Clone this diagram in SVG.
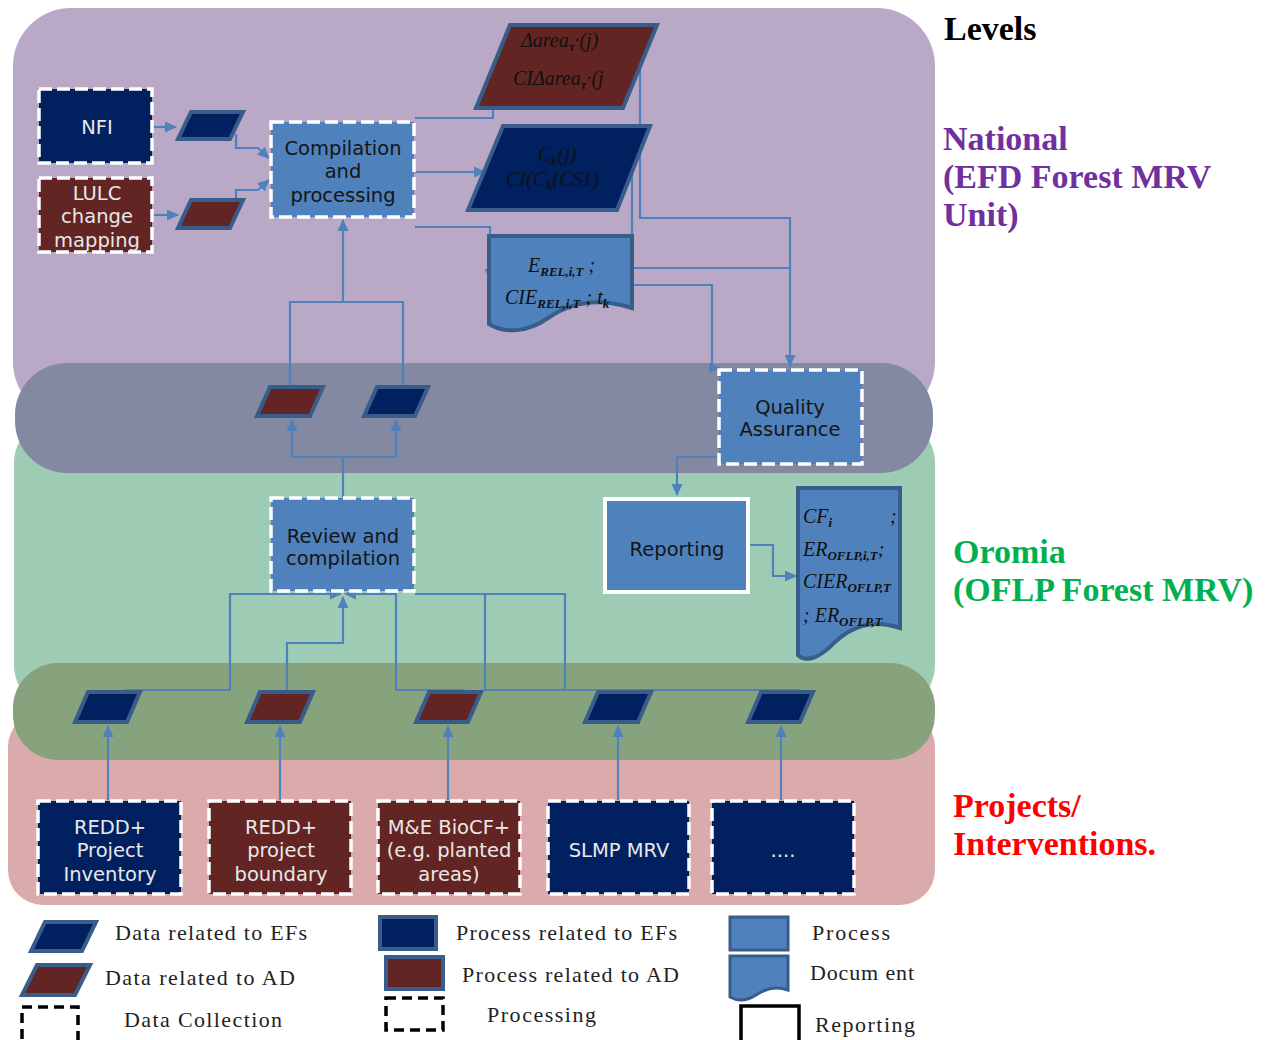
<svg xmlns="http://www.w3.org/2000/svg" width="1270" height="1040" viewBox="0 0 1270 1040">
<defs>
<marker id="arr" markerUnits="userSpaceOnUse" markerWidth="12" markerHeight="11" refX="11" refY="5.5" orient="auto">
<path d="M0,0 L12,5.5 L0,11 z" fill="#4F81BD"/>
</marker>
</defs>
<style>
.con{fill:none;stroke:#4F81BD;stroke-width:2.2}
.ca{fill:none;stroke:#4F81BD;stroke-width:2.2;marker-end:url(#arr)}
.dc{stroke:#fff;stroke-width:3.5;stroke-dasharray:13 5}
.navy{fill:#002060}
.mar{fill:#632523}
.proc{fill:#4F81BD}
.pe{fill:#002060;stroke:#385D8A;stroke-width:4}
.pa{fill:#632523;stroke:#385D8A;stroke-width:4}
.doc{fill:#4F81BD;stroke:#385D8A;stroke-width:4}
.t{font-family:"DejaVu Sans",Verdana,sans-serif;font-size:19.5px;text-anchor:middle}
.tl{fill:#E8E8E8}
.td{fill:#151515}
.m{font-family:"Liberation Serif","Times New Roman",serif;font-style:italic;font-size:20px;fill:#111}
.s{font-size:13px;font-weight:bold}
.lg{font-family:"Liberation Serif","Times New Roman",serif;font-size:22px;fill:#222}
.lv{font-family:"Liberation Serif","Times New Roman",serif;font-weight:bold;font-size:34px}
</style>
<rect width="1270" height="1040" fill="#fff"/>
<g id="levels-bg">
<rect x="13" y="8" width="922" height="412" rx="58" fill="#B9A9C7"/>
<rect x="14" y="418" width="921" height="292" rx="45" fill="#9DCBB3"/>
<rect x="8" y="712" width="927" height="193" rx="35" fill="#DBABAB"/>
<rect x="15" y="363" width="918" height="110" rx="52" fill="#8289A0"/>
<rect x="13" y="663" width="922" height="97" rx="45" fill="#86A37E"/>
</g>
<g id="connectors">
<path class="ca" d="M153,127 H176"/>
<path class="ca" d="M153,215 H178"/>
<path class="ca" d="M236,134 V148 H258 L269,158"/>
<path class="ca" d="M236,201 V190 H258 L269,180"/>
<path class="ca" d="M415,118 H493 V70"/>
<path class="ca" d="M415,172 H485"/>
<path class="ca" d="M415,227 H490 V280"/>
<path class="ca" d="M640,68 V218 H790 V366"/>
<path class="con" d="M632,172 V268 H790"/>
<path class="ca" d="M633,285 H712 V368 H720"/>
<path class="ca" d="M718,457 H677 V495"/>
<path class="ca" d="M290,385 V302 H403 V385 M343,302 V220"/>
<path class="con" d="M343,497 V457 H292 V432"/>
<path class="ca" d="M292,440 V420"/>
<path class="con" d="M343,457 H396 V432"/>
<path class="ca" d="M396,440 V420"/>
<path class="ca" d="M125,690 H230 V594 H341"/>
<path class="ca" d="M287,690 V643 H343 V597"/>
<path class="ca" d="M465,690 H396 V594 H345"/>
<path class="con" d="M640,690 H485 V594"/>
<path class="con" d="M800,690 H565 V594 H415"/>
<path class="ca" d="M749,545 H773 V576 H796"/>
<path class="ca" d="M108,800 V726"/>
<path class="ca" d="M280,800 V726"/>
<path class="ca" d="M448,800 V726"/>
<path class="ca" d="M618,800 V726"/>
<path class="ca" d="M781,800 V726"/>
</g>
<g id="nfi">
<rect class="navy dc" x="39" y="89" width="113" height="74"/>
<text class="t tl" x="97" y="134">NFI</text>
</g>
<g id="lulc">
<rect class="mar dc" x="39" y="178" width="113" height="74"/>
<text class="t tl" x="97" y="200">LULC</text>
<text class="t tl" x="97" y="223">change</text>
<text class="t tl" x="97" y="247">mapping</text>
</g>
<g id="data-nfi"><polygon class="pe" points="191,112 243,112 230,139 178,139"/></g>
<g id="data-lulc"><polygon class="pa" points="191,200 243,200 230,228 178,228"/></g>
<g id="compilation">
<rect class="proc dc" x="271" y="122" width="143" height="95"/>
<text class="t td" x="343" y="155">Compilation</text>
<text class="t td" x="343" y="178">and</text>
<text class="t td" x="343" y="202">processing</text>
</g>
<g id="area-data">
<polygon class="pa" points="510,25 657,25 623,108 476,108" stroke-width="5"/>
<text class="m" x="521" y="47">Δarea<tspan class="s" dy="4">τ</tspan><tspan dy="-4">·(j)</tspan></text>
<text class="m" x="513" y="85">CIΔarea<tspan class="s" dy="4">τ</tspan><tspan dy="-4">·(j</tspan></text>
</g>
<g id="carbon-data">
<polygon class="pe" points="503,126 650,126 617,210 468,210" stroke-width="5"/>
<text class="m" x="538" y="161">C<tspan class="s" dy="4">k</tspan><tspan dy="-4">(j)</tspan></text>
<text class="m" x="506" y="186">CI(C<tspan class="s" dy="4">k</tspan><tspan dy="-4">(CS1)</tspan></text>
</g>
<g id="rel-doc">
<path class="doc" d="M489,236 H632 V308 C595,296 568,304 548,318 C528,332 505,334 489,324 Z"/>
<text class="m" x="528" y="272">E<tspan class="s" dy="4">REL,i,T</tspan><tspan dy="-4"> ;</tspan></text>
<text class="m" x="505" y="304">CIE<tspan class="s" dy="4">REL,i,T</tspan><tspan dy="-4"> ;  t</tspan><tspan class="s" dy="4">k</tspan></text>
</g>
<g id="quality">
<rect class="proc dc" x="719" y="370" width="143" height="94"/>
<text class="t td" x="790" y="414">Quality</text>
<text class="t td" x="790" y="436">Assurance</text>
</g>
<g id="data-ad-mid"><polygon class="pa" points="270,387 323,387 310,416 257,416"/></g>
<g id="data-ef-mid"><polygon class="pe" points="377,387 428,387 415,416 364,416"/></g>
<g id="review">
<rect class="proc dc" x="271" y="498" width="143" height="93"/>
<text class="t td" x="343" y="543">Review and</text>
<text class="t td" x="343" y="565">compilation</text>
</g>
<g id="reporting">
<rect class="proc" x="605" y="499" width="143" height="93" stroke="#fff" stroke-width="4"/>
<text class="t td" x="677" y="556">Reporting</text>
</g>
<g id="oflp-doc">
<path class="doc" d="M798,488 H900 V628 C870,618 850,628 835,642 C820,658 806,663 798,655 Z"/>
<text class="m" x="803" y="523">CF<tspan class="s" dy="4">i</tspan></text>
<text class="m" x="890" y="523">;</text>
<text class="m" x="803" y="556">ER<tspan class="s" dy="4">OFLP,i,T</tspan><tspan dy="-4">;</tspan></text>
<text class="m" x="803" y="588">CIER<tspan class="s" dy="4">OFLP,T</tspan></text>
<text class="m" x="803" y="622">; ER<tspan class="s" dy="4">OFLP,T</tspan></text>
</g>
<g id="data-1"><polygon class="pe" points="88,692 140,692 127,722 75,722"/></g>
<g id="data-2"><polygon class="pa" points="260,692 313,692 300,722 247,722"/></g>
<g id="data-3"><polygon class="pa" points="429,692 481,692 468,722 416,722"/></g>
<g id="data-4"><polygon class="pe" points="598,692 651,692 638,722 585,722"/></g>
<g id="data-5"><polygon class="pe" points="761,692 813,692 800,722 748,722"/></g>
<g id="redd-inventory">
<rect class="navy dc" x="38" y="801" width="143" height="93"/>
<text class="t tl" x="110" y="834">REDD+</text>
<text class="t tl" x="110" y="857">Project</text>
<text class="t tl" x="110" y="881">Inventory</text>
</g>
<g id="redd-boundary">
<rect class="mar dc" x="209" y="801" width="142" height="93"/>
<text class="t tl" x="281" y="834">REDD+</text>
<text class="t tl" x="281" y="857">project</text>
<text class="t tl" x="281" y="881">boundary</text>
</g>
<g id="biocf">
<rect class="mar dc" x="378" y="801" width="142" height="93"/>
<text class="t tl" x="449" y="834">M&amp;E BioCF+</text>
<text class="t tl" x="449" y="857">(e.g. planted</text>
<text class="t tl" x="449" y="881">areas)</text>
</g>
<g id="slmp">
<rect class="navy dc" x="548" y="801" width="141" height="93"/>
<text class="t tl" x="619" y="857">SLMP MRV</text>
</g>
<g id="more">
<rect class="navy dc" x="712" y="801" width="142" height="93"/>
<text class="t tl" x="783" y="857">....</text>
</g>
<g id="level-labels">
<text class="lv" x="944" y="40" fill="#000">Levels</text>
<text class="lv" x="943" y="150" fill="#7030A0">National</text>
<text class="lv" x="943" y="188" fill="#7030A0">(EFD Forest MRV</text>
<text class="lv" x="943" y="226" fill="#7030A0">Unit)</text>
<text class="lv" x="953" y="563" fill="#00B050">Oromia</text>
<text class="lv" x="953" y="601" fill="#00B050">(OFLP Forest MRV)</text>
<text class="lv" x="953" y="817" fill="#FF0000">Projects/</text>
<text class="lv" x="953" y="855" fill="#FF0000">Interventions.</text>
</g>
<g id="legend">
<polygon class="pe" points="45,922 96,922 82,951 31,951"/>
<text class="lg" x="115" y="940" textLength="192" lengthAdjust="spacing">Data related to EFs</text>
<polygon class="pa" points="37,965 90,965 75,995 22,995"/>
<text class="lg" x="105" y="985" textLength="190" lengthAdjust="spacing">Data related to AD</text>
<rect x="22" y="1007" width="56" height="40" fill="none" stroke="#000" stroke-width="3.5" stroke-dasharray="10 6"/>
<text class="lg" x="124" y="1027" textLength="158" lengthAdjust="spacing">Data Collection</text>
<rect x="380" y="917" width="56" height="32" class="pe"/>
<text class="lg" x="456" y="940" textLength="221" lengthAdjust="spacing">Process related to EFs</text>
<rect x="386" y="957" width="57" height="32" class="pa"/>
<text class="lg" x="462" y="982" textLength="217" lengthAdjust="spacing">Process related to AD</text>
<rect x="386" y="998" width="57" height="32" fill="none" stroke="#000" stroke-width="3.5" stroke-dasharray="10 6"/>
<text class="lg" x="487" y="1022" textLength="109" lengthAdjust="spacing">Processing</text>
<rect x="730" y="917" width="58" height="33" fill="#4F81BD" stroke="#385D8A" stroke-width="3"/>
<text class="lg" x="812" y="940" textLength="78" lengthAdjust="spacing">Process</text>
<path d="M730,956 H788 V990 C774,985 764,990 756,995 C745,1002 737,1001 730,997 Z" fill="#4F81BD" stroke="#385D8A" stroke-width="3"/>
<text class="lg" x="810" y="980" textLength="104" lengthAdjust="spacing">Docum ent</text>
<rect x="741" y="1006" width="58" height="36" fill="#fff" stroke="#000" stroke-width="3.5"/>
<text class="lg" x="815" y="1032" textLength="100" lengthAdjust="spacing">Reporting</text>
</g>
</svg>
